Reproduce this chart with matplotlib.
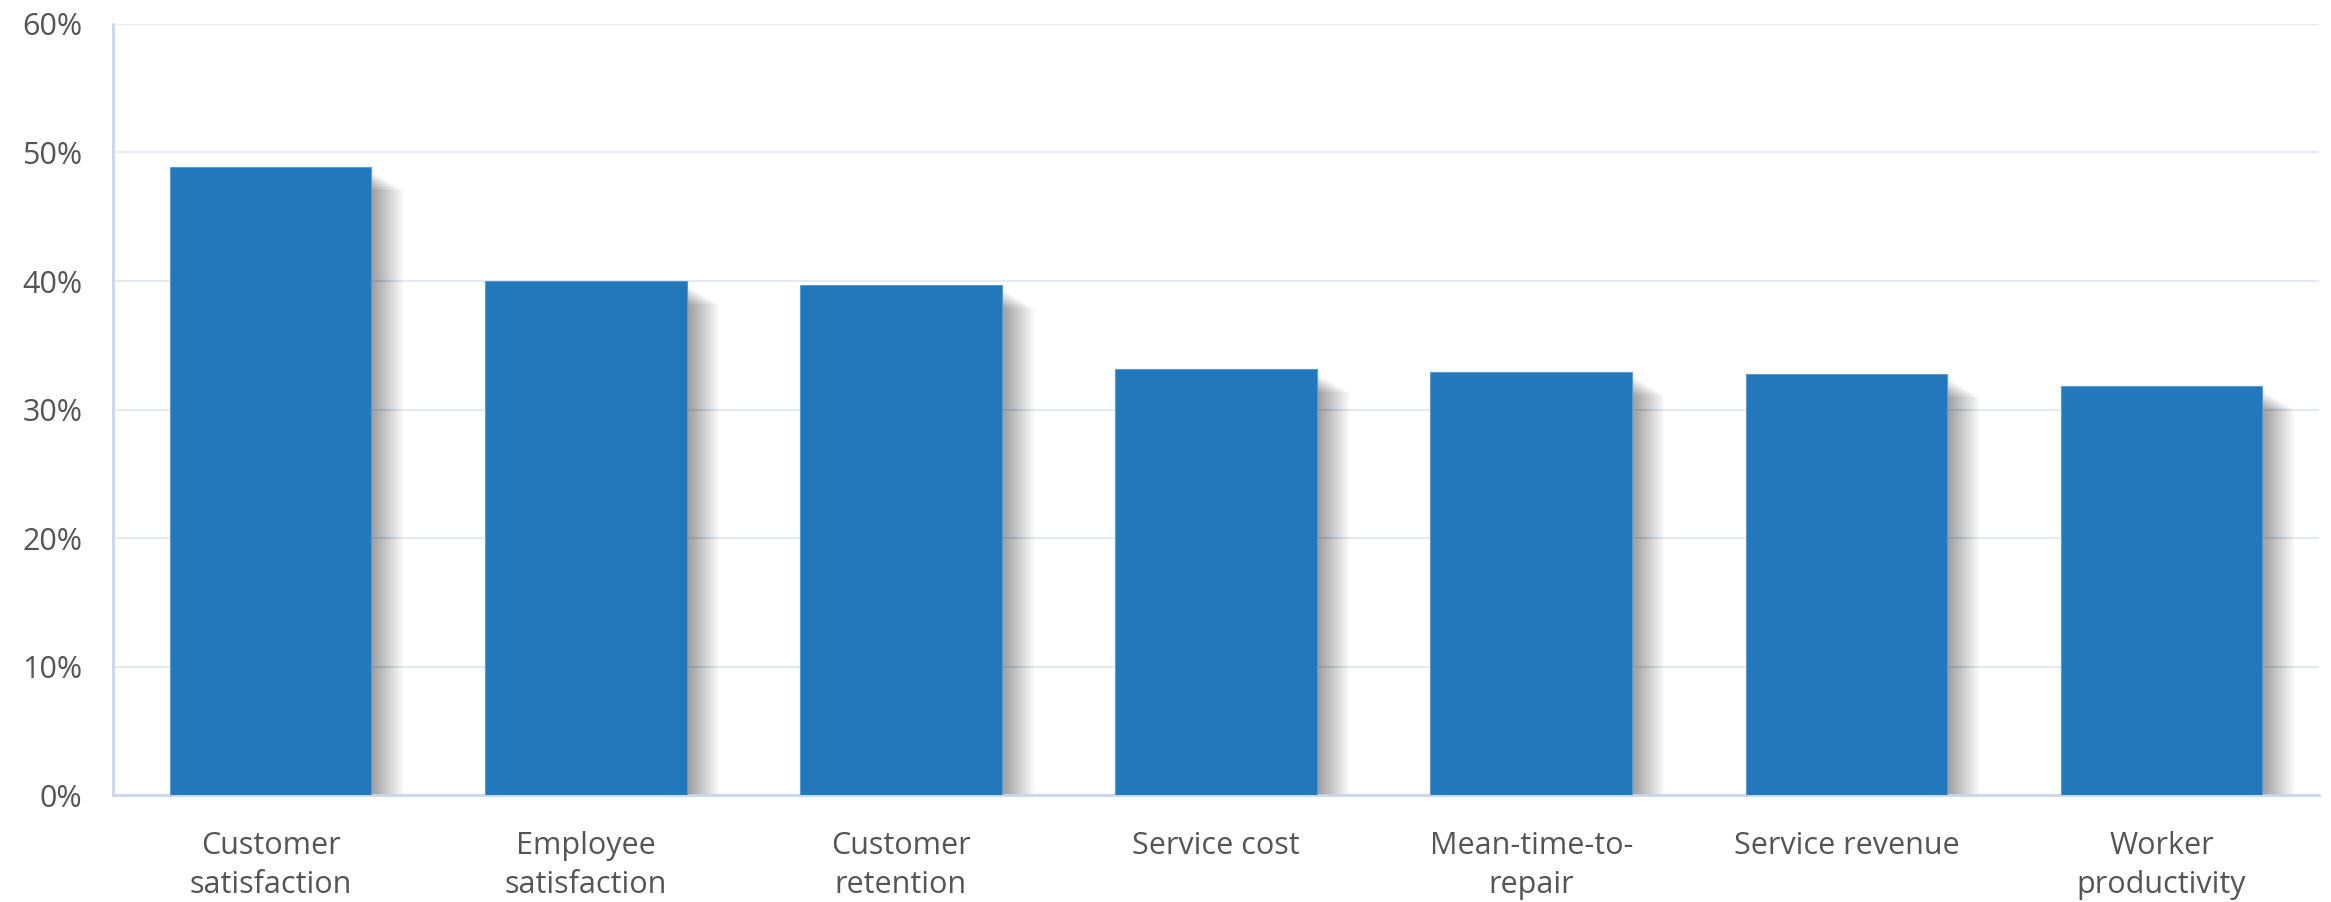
import numpy as np
import matplotlib.pyplot as plt
from matplotlib.patches import Rectangle
from matplotlib.transforms import offset_copy
from matplotlib.ticker import FuncFormatter

categories = ['Customer\nsatisfaction', 'Employee\nsatisfaction', 'Customer\nretention',
              'Service cost', 'Mean-time-to-\nrepair', 'Service revenue', 'Worker\nproductivity']
values = [48.9, 40.0, 39.7, 33.15, 32.95, 32.8, 31.85]
yticks = [0, 10, 20, 30, 40, 50, 60]

plt.rcParams['font.family'] = ['Open Sans', 'DejaVu Sans']

fig = plt.figure(figsize=(23.31, 9.02), dpi=100)
ax = fig.add_axes([0.0485, 0.1186, 0.9464, 0.8548])

x = np.arange(len(categories))
bars = ax.bar(x, values, width=0.64, color='#2278ba', edgecolor='#5a9bd0',
              linewidth=0.8, zorder=3)

# soft drop shadow to the right of each bar (stacked faint copies)
for b in bars:
    for k in range(1, 34):
        tr = offset_copy(ax.transData, fig=fig, x=k, y=-(4 + 0.6 * k), units='dots')
        r = Rectangle((b.get_x(), 0), b.get_width(), b.get_height(),
                      facecolor='black', edgecolor='none', alpha=0.0105,
                      transform=tr, zorder=2)
        ax.add_patch(r)

ax.set_xlim(-0.5, len(categories) - 0.5)
ax.set_ylim(0, 60)
ax.set_yticks(yticks)
ax.yaxis.set_major_formatter(FuncFormatter(lambda v, p: '%d%%' % v))
ax.set_xticks(x)
ax.set_xticklabels(categories, linespacing=1.4)

ax.grid(axis='y', color='#e6e9ef', linewidth=1.5, zorder=0)
ax.set_axisbelow(True)
for s in ['top', 'right']:
    ax.spines[s].set_visible(False)
for s in ['left', 'bottom']:
    ax.spines[s].set_color('#ccd6eb')
    ax.spines[s].set_linewidth(2)

ax.tick_params(axis='y', length=0, pad=22, labelsize=22, labelcolor='#555555')
ax.tick_params(axis='x', length=0, pad=26, labelsize=22, labelcolor='#555555')

fig.savefig('out.png', dpi=100, facecolor='white')
